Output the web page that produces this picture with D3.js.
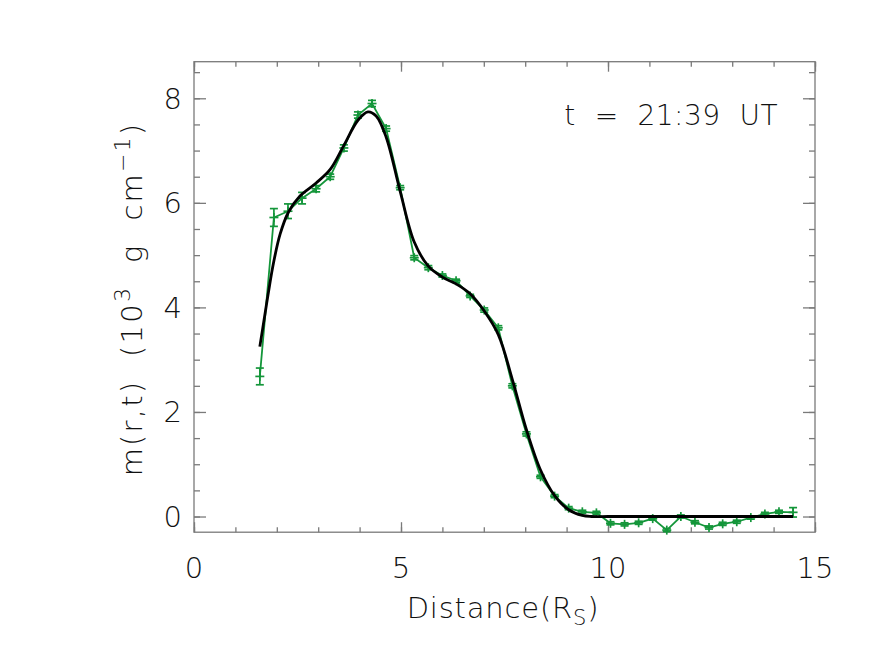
<!DOCTYPE html>
<html><head><meta charset="utf-8">
<script src="https://cdn.jsdelivr.net/npm/d3@7"></script>
<style>
html,body{margin:0;padding:0;background:#fff;}
text{font-family:"DejaVu Sans",sans-serif;font-weight:200;fill:#111;white-space:pre;}
</style></head>
<body>
<svg id="chart" width="872" height="655"></svg>
<script>
// ---- data ----
const distance = [1.59,1.93,2.27,2.61,2.95,3.29,3.62,3.96,4.30,4.64,4.98,5.32,5.66,6.00,6.33,6.67,7.01,7.35,7.69,8.03,8.37,8.71,9.05,9.38,9.72,10.06,10.40,10.74,11.08,11.42,11.76,12.10,12.44,12.77,13.11,13.45,13.79,14.13,14.47];
const mass = [2.68,5.72,5.84,6.09,6.27,6.50,7.05,7.68,7.90,7.42,6.29,4.95,4.76,4.61,4.51,4.22,3.95,3.61,2.50,1.58,0.76,0.39,0.16,0.09,0.07,-0.13,-0.15,-0.12,-0.04,-0.26,0.00,-0.11,-0.21,-0.14,-0.10,-0.02,0.05,0.09,0.08];
const massErr = [0.16,0.17,0.14,0.11,0.06,0.05,0.06,0.06,0.06,0.05,0.04,0.04,0.04,0.03,0.03,0.03,0.04,0.04,0.04,0.04,0.03,0.03,0.03,0.03,0.03,0.03,0.03,0.03,0.03,0.03,0.03,0.03,0.03,0.03,0.03,0.03,0.03,0.03,0.09];
const fitDistance = [1.59,1.71,1.80,1.92,2.08,2.28,2.56,2.95,3.29,3.62,3.96,4.20,4.40,4.64,4.98,5.32,5.66,6.00,6.33,6.67,7.01,7.35,7.69,8.03,8.37,8.71,9.05,9.38,9.60,10.0,11.0,12.0,13.0,14.0,14.47];
const fitMass = [3.25,3.85,4.30,4.85,5.40,5.82,6.13,6.38,6.64,7.10,7.58,7.74,7.66,7.26,6.22,5.25,4.79,4.58,4.45,4.26,3.93,3.48,2.62,1.66,0.89,0.40,0.13,0.02,0.0,0.0,0.0,0.0,0.0,0.0,0.0];
const xTicks = [0,5,10,15];
const yTicks = [0,2,4,6,8];
const annotation = "t  =  21:39  UT";

// ---- chart ----
const svg = d3.select("#chart");
const L=194, R=815, T=61.7, B=532.2;
const x = d3.scaleLinear().domain([0,15]).range([L,R]);
const y = d3.scaleLinear().domain([-0.3,8.7]).range([B,T]);
const axisCol = "#7a7a7a";

// frame
svg.append("rect").attr("x",L).attr("y",T).attr("width",R-L).attr("height",B-T)
  .attr("fill","none").attr("stroke",axisCol).attr("stroke-width",1.3);

function drawAxis(gen, tx, ty){
  const g = svg.append("g").attr("transform",`translate(${tx},${ty})`).call(gen);
  g.select(".domain").remove();
  g.selectAll("line").attr("stroke",axisCol).attr("stroke-width",1.3);
  g.selectAll("text").remove();
  return g;
}
const xMinor = d3.range(0,15.001,1), yMinor = d3.range(0,8.51,0.5);
drawAxis(d3.axisTop(x).tickValues(xMinor).tickSize(5), 0, B);
drawAxis(d3.axisTop(x).tickValues(xTicks).tickSize(10), 0, B);
drawAxis(d3.axisBottom(x).tickValues(xMinor).tickSize(5), 0, T);
drawAxis(d3.axisBottom(x).tickValues(xTicks).tickSize(10), 0, T);
drawAxis(d3.axisRight(y).tickValues(yMinor).tickSize(6), L, 0);
drawAxis(d3.axisRight(y).tickValues(yTicks).tickSize(12), L, 0);
drawAxis(d3.axisLeft(y).tickValues(yMinor).tickSize(6), R, 0);
drawAxis(d3.axisLeft(y).tickValues(yTicks).tickSize(12), R, 0);

// tick labels
svg.append("g").selectAll("text").data(xTicks).join("text")
  .attr("x",d=>x(d)).attr("y",578).attr("text-anchor","middle")
  .attr("font-size",29).text(d=>d);
svg.append("g").selectAll("text").data(yTicks).join("text")
  .attr("x",182).attr("y",d=>y(d)+10.5).attr("text-anchor","end")
  .attr("font-size",29).text(d=>d);

// axis titles
const xl = svg.append("text").attr("x",503).attr("y",618).attr("text-anchor","middle")
  .attr("font-size",29).attr("letter-spacing",0.8);
xl.append("tspan").text("Distance(R");
xl.append("tspan").attr("font-size",21).attr("dy",7).text("S");
xl.append("tspan").attr("dy",-7).text(")");

const yl = svg.append("text").attr("transform","translate(142,299) rotate(-90)")
  .attr("text-anchor","middle").attr("font-size",29).attr("letter-spacing",2.2);
yl.append("tspan").text("m(r,t)  (10");
yl.append("tspan").attr("font-size",22).attr("dy",-12).text("3");
yl.append("tspan").attr("dy",12).text("  g  cm");
yl.append("tspan").attr("font-size",22).attr("dy",-12).text("−1");
yl.append("tspan").attr("dy",12).text(")");

svg.append("text").attr("x",778).attr("y",125).attr("text-anchor","end")
  .attr("font-size",28).attr("letter-spacing",0.5).text(annotation);

// data
const green = "#14963a";
const pts = distance.map((d,i)=>({x:d,y:mass[i],e:massErr[i]}));
svg.append("path").datum(pts)
  .attr("d",d3.line().x(d=>x(d.x)).y(d=>y(d.y)))
  .attr("fill","none").attr("stroke",green).attr("stroke-width",1.8);
const eb = svg.append("g").attr("stroke",green).attr("stroke-width",1.7);
pts.forEach(p=>{
  const cx=x(p.x), y1=y(p.y+p.e), y2=y(p.y-p.e), cy=y(p.y);
  eb.append("line").attr("x1",cx).attr("x2",cx).attr("y1",y1).attr("y2",y2);
  eb.append("line").attr("x1",cx-4).attr("x2",cx+4).attr("y1",y1).attr("y2",y1);
  eb.append("line").attr("x1",cx-4).attr("x2",cx+4).attr("y1",y2).attr("y2",y2);
  eb.append("line").attr("x1",cx-4.5).attr("x2",cx+4.5).attr("y1",cy).attr("y2",cy);
  eb.append("line").attr("x1",cx).attr("x2",cx).attr("y1",cy-4.5).attr("y2",cy+4.5);
});

// fit curve
svg.append("path").datum(fitDistance.map((d,i)=>[d,fitMass[i]]))
  .attr("d",d3.line().x(d=>x(d[0])).y(d=>y(d[1])).curve(d3.curveCatmullRom.alpha(0.5)))
  .attr("fill","none").attr("stroke","#000").attr("stroke-width",2.8);
</script>
</body></html>
